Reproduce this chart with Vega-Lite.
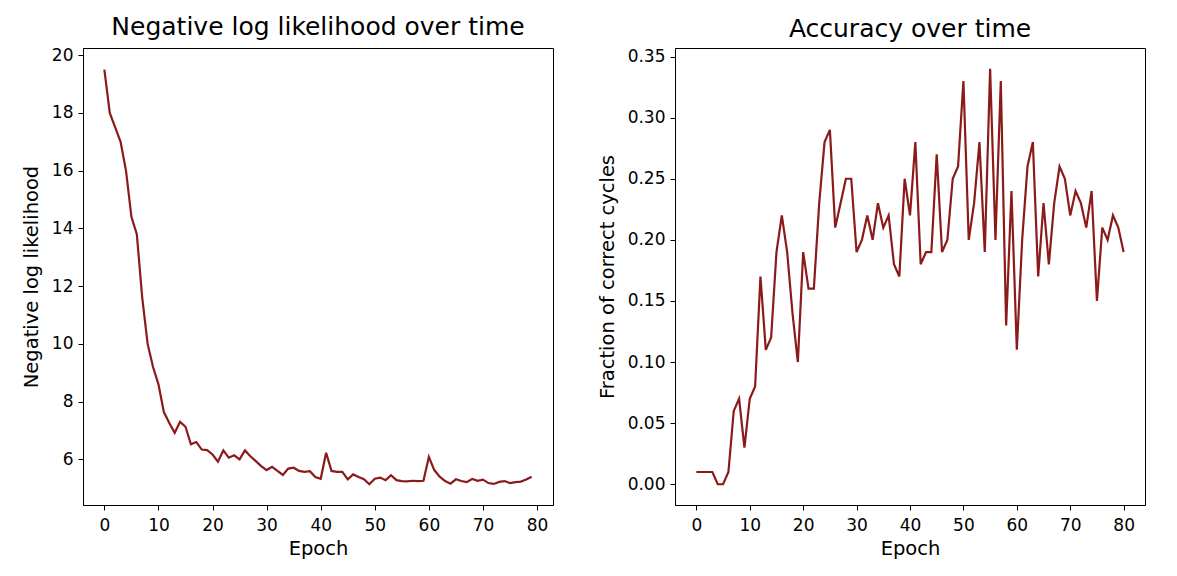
{
  "$schema": "https://vega.github.io/schema/vega-lite/v6.json",
  "padding": {"left": 20, "top": 14, "right": 5, "bottom": 5},
  "background": "white",
  "config": {
    "font": "DejaVu Sans",
    "view": {"stroke": "black", "strokeWidth": 1},
    "axis": {
      "grid": false,
      "domainColor": "black",
      "tickColor": "black",
      "tickSize": 5,
      "labelColor": "black",
      "labelFontSize": 17,
      "labelFont": "DejaVu Sans",
      "titleFont": "DejaVu Sans",
      "titleFontSize": 19.5,
      "titleFontWeight": "normal",
      "titleColor": "black",
      "labelPadding": 5
    },
    "axisX": {"labelPadding": 7, "titlePadding": 6},
    "axisY": {"titlePadding": 10},
    "title": {"font": "DejaVu Sans", "fontSize": 25, "fontWeight": "normal", "color": "black", "offset": 6}
  },
  "spacing": 42,
  "datasets": {
    "nll": [
      {"epoch": 0, "v": 19.5}, {"epoch": 1, "v": 18.0}, {"epoch": 2, "v": 17.5}, {"epoch": 3, "v": 17.0},
      {"epoch": 4, "v": 16.0}, {"epoch": 5, "v": 14.4}, {"epoch": 6, "v": 13.8}, {"epoch": 7, "v": 11.6},
      {"epoch": 8, "v": 10.0}, {"epoch": 9, "v": 9.2}, {"epoch": 10, "v": 8.6}, {"epoch": 11, "v": 7.64},
      {"epoch": 12, "v": 7.26}, {"epoch": 13, "v": 6.92}, {"epoch": 14, "v": 7.3}, {"epoch": 15, "v": 7.13},
      {"epoch": 16, "v": 6.52}, {"epoch": 17, "v": 6.6}, {"epoch": 18, "v": 6.34}, {"epoch": 19, "v": 6.32},
      {"epoch": 20, "v": 6.17}, {"epoch": 21, "v": 5.92}, {"epoch": 22, "v": 6.31}, {"epoch": 23, "v": 6.06},
      {"epoch": 24, "v": 6.14}, {"epoch": 25, "v": 6.0}, {"epoch": 26, "v": 6.31}, {"epoch": 27, "v": 6.11},
      {"epoch": 28, "v": 5.94}, {"epoch": 29, "v": 5.77}, {"epoch": 30, "v": 5.63}, {"epoch": 31, "v": 5.74},
      {"epoch": 32, "v": 5.6}, {"epoch": 33, "v": 5.46}, {"epoch": 34, "v": 5.68}, {"epoch": 35, "v": 5.71},
      {"epoch": 36, "v": 5.6}, {"epoch": 37, "v": 5.57}, {"epoch": 38, "v": 5.59}, {"epoch": 39, "v": 5.39},
      {"epoch": 40, "v": 5.33}, {"epoch": 41, "v": 6.23}, {"epoch": 42, "v": 5.6}, {"epoch": 43, "v": 5.57},
      {"epoch": 44, "v": 5.57}, {"epoch": 45, "v": 5.31}, {"epoch": 46, "v": 5.48}, {"epoch": 47, "v": 5.39},
      {"epoch": 48, "v": 5.31}, {"epoch": 49, "v": 5.14}, {"epoch": 50, "v": 5.33}, {"epoch": 51, "v": 5.37},
      {"epoch": 52, "v": 5.28}, {"epoch": 53, "v": 5.45}, {"epoch": 54, "v": 5.28}, {"epoch": 55, "v": 5.25},
      {"epoch": 56, "v": 5.24}, {"epoch": 57, "v": 5.26}, {"epoch": 58, "v": 5.25}, {"epoch": 59, "v": 5.26},
      {"epoch": 60, "v": 6.09}, {"epoch": 61, "v": 5.63}, {"epoch": 62, "v": 5.4}, {"epoch": 63, "v": 5.25},
      {"epoch": 64, "v": 5.16}, {"epoch": 65, "v": 5.31}, {"epoch": 66, "v": 5.25}, {"epoch": 67, "v": 5.21},
      {"epoch": 68, "v": 5.32}, {"epoch": 69, "v": 5.26}, {"epoch": 70, "v": 5.3}, {"epoch": 71, "v": 5.18},
      {"epoch": 72, "v": 5.15}, {"epoch": 73, "v": 5.22}, {"epoch": 74, "v": 5.25}, {"epoch": 75, "v": 5.18},
      {"epoch": 76, "v": 5.21}, {"epoch": 77, "v": 5.23}, {"epoch": 78, "v": 5.3}, {"epoch": 79, "v": 5.4}
    ],
    "acc": [
      {"epoch": 0, "v": 0.01}, {"epoch": 1, "v": 0.01}, {"epoch": 2, "v": 0.01}, {"epoch": 3, "v": 0.01},
      {"epoch": 4, "v": 0.0}, {"epoch": 5, "v": 0.0}, {"epoch": 6, "v": 0.01}, {"epoch": 7, "v": 0.06},
      {"epoch": 8, "v": 0.07}, {"epoch": 9, "v": 0.03}, {"epoch": 10, "v": 0.07}, {"epoch": 11, "v": 0.08},
      {"epoch": 12, "v": 0.17}, {"epoch": 13, "v": 0.11}, {"epoch": 14, "v": 0.12}, {"epoch": 15, "v": 0.19},
      {"epoch": 16, "v": 0.22}, {"epoch": 17, "v": 0.19}, {"epoch": 18, "v": 0.14}, {"epoch": 19, "v": 0.10},
      {"epoch": 20, "v": 0.19}, {"epoch": 21, "v": 0.16}, {"epoch": 22, "v": 0.16}, {"epoch": 23, "v": 0.23},
      {"epoch": 24, "v": 0.28}, {"epoch": 25, "v": 0.29}, {"epoch": 26, "v": 0.21}, {"epoch": 27, "v": 0.23},
      {"epoch": 28, "v": 0.25}, {"epoch": 29, "v": 0.25}, {"epoch": 30, "v": 0.19}, {"epoch": 31, "v": 0.20},
      {"epoch": 32, "v": 0.22}, {"epoch": 33, "v": 0.20}, {"epoch": 34, "v": 0.23}, {"epoch": 35, "v": 0.21},
      {"epoch": 36, "v": 0.22}, {"epoch": 37, "v": 0.18}, {"epoch": 38, "v": 0.17}, {"epoch": 39, "v": 0.25},
      {"epoch": 40, "v": 0.22}, {"epoch": 41, "v": 0.28}, {"epoch": 42, "v": 0.18}, {"epoch": 43, "v": 0.19},
      {"epoch": 44, "v": 0.19}, {"epoch": 45, "v": 0.27}, {"epoch": 46, "v": 0.19}, {"epoch": 47, "v": 0.20},
      {"epoch": 48, "v": 0.25}, {"epoch": 49, "v": 0.26}, {"epoch": 50, "v": 0.33}, {"epoch": 51, "v": 0.20},
      {"epoch": 52, "v": 0.23}, {"epoch": 53, "v": 0.28}, {"epoch": 54, "v": 0.19}, {"epoch": 55, "v": 0.34},
      {"epoch": 56, "v": 0.20}, {"epoch": 57, "v": 0.33}, {"epoch": 58, "v": 0.13}, {"epoch": 59, "v": 0.24},
      {"epoch": 60, "v": 0.11}, {"epoch": 61, "v": 0.20}, {"epoch": 62, "v": 0.26}, {"epoch": 63, "v": 0.28},
      {"epoch": 64, "v": 0.17}, {"epoch": 65, "v": 0.23}, {"epoch": 66, "v": 0.18}, {"epoch": 67, "v": 0.23},
      {"epoch": 68, "v": 0.26}, {"epoch": 69, "v": 0.25}, {"epoch": 70, "v": 0.22}, {"epoch": 71, "v": 0.24},
      {"epoch": 72, "v": 0.23}, {"epoch": 73, "v": 0.21}, {"epoch": 74, "v": 0.24}, {"epoch": 75, "v": 0.15},
      {"epoch": 76, "v": 0.21}, {"epoch": 77, "v": 0.20}, {"epoch": 78, "v": 0.22}, {"epoch": 79, "v": 0.21},
      {"epoch": 80, "v": 0.19}
    ]
  },
  "hconcat": [
    {
      "width": 470,
      "height": 457,
      "title": "Negative log likelihood over time",
      "data": {"name": "nll"},
      "mark": {"type": "line", "color": "#8b1a1a", "strokeWidth": 2.2, "clip": true},
      "encoding": {
        "x": {
          "field": "epoch", "type": "quantitative", "title": "Epoch",
          "scale": {"domain": [-3.95, 82.95], "nice": false, "zero": false},
          "axis": {"values": [0, 10, 20, 30, 40, 50, 60, 70, 80]}
        },
        "y": {
          "field": "v", "type": "quantitative", "title": "Negative log likelihood",
          "scale": {"domain": [4.42, 20.25], "nice": false, "zero": false},
          "axis": {"values": [6, 8, 10, 12, 14, 16, 18, 20]}
        }
      }
    },
    {
      "width": 470,
      "height": 457,
      "title": "Accuracy over time",
      "data": {"name": "acc"},
      "mark": {"type": "line", "color": "#8b1a1a", "strokeWidth": 2.2, "clip": true},
      "encoding": {
        "x": {
          "field": "epoch", "type": "quantitative", "title": "Epoch",
          "scale": {"domain": [-4, 84], "nice": false, "zero": false},
          "axis": {"values": [0, 10, 20, 30, 40, 50, 60, 70, 80]}
        },
        "y": {
          "field": "v", "type": "quantitative", "title": "Fraction of correct cycles",
          "scale": {"domain": [-0.017, 0.357], "nice": false, "zero": false},
          "axis": {"values": [0, 0.05, 0.1, 0.15, 0.2, 0.25, 0.3, 0.35], "format": ".2f"}
        }
      }
    }
  ]
}
